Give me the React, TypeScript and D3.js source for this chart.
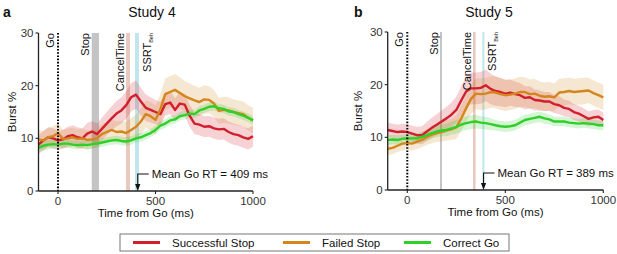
import React from 'react';
import * as d3 from 'd3';

// Time grid (ms from Go), 25 ms resolution
const times: number[] = d3.range(-100, 1001, 25);
const xTicks = [0, 500, 1000];
const yTicks = [0, 10, 20, 30];

// ---------- Study 4 ----------
const s4SuccStop = [8.8, 9.6, 10.2, 10.0, 9.6, 9.8, 10.4, 10.6, 10.2, 10.0, 10.9, 11.3, 10.8, 11.8, 12.8, 13.8, 14.7, 15.3, 16.3, 17.8, 18.3, 17.0, 15.8, 15.4, 15.0, 14.6, 16.5, 16.8, 15.4, 16.6, 16.4, 14.3, 12.8, 12.6, 12.2, 12.3, 11.9, 11.7, 11.8, 11.2, 10.8, 10.6, 10.2, 9.9, 10.4];
const s4FailStop = [9.8, 9.6, 10.2, 10.4, 11.0, 9.9, 10.0, 10.2, 9.9, 10.0, 9.7, 9.8, 10.0, 10.8, 11.2, 11.6, 11.2, 11.3, 11.0, 11.6, 12.2, 13.2, 14.6, 14.2, 13.5, 15.5, 18.4, 18.8, 19.2, 18.6, 18.0, 17.6, 17.2, 16.9, 17.4, 17.3, 16.6, 15.2, 15.4, 15.3, 15.0, 14.8, 14.6, 13.9, 13.4];
const s4CorrGo = [8.2, 8.6, 8.8, 8.9, 8.8, 9.0, 9.0, 8.8, 8.7, 8.8, 8.7, 8.9, 9.0, 9.2, 9.4, 9.6, 9.7, 9.5, 9.4, 9.6, 10.0, 10.2, 10.6, 11.0, 11.6, 12.4, 12.8, 13.4, 13.6, 14.2, 14.4, 14.7, 14.6, 15.3, 15.6, 16.0, 16.1, 15.7, 15.6, 15.1, 15.0, 14.6, 14.3, 13.9, 13.4];
const s4SuccStopSem = [1.8, 1.8, 1.9, 1.9, 1.8, 1.8, 1.8, 1.9, 1.9, 1.9, 2.0, 2.0, 2.0, 2.1, 2.2, 2.3, 2.4, 2.5, 2.6, 2.7, 2.7, 2.6, 2.5, 2.4, 2.3, 2.3, 2.2, 2.2, 2.2, 2.2, 2.1, 2.1, 2.0, 2.0, 2.0, 2.0, 2.0, 2.0, 2.0, 2.0, 2.0, 2.0, 2.0, 2.0, 2.0];
const s4FailStopSem = [1.8, 1.8, 1.8, 1.9, 1.9, 1.8, 1.8, 1.8, 1.8, 1.8, 1.8, 1.8, 1.8, 1.9, 1.9, 2.0, 2.0, 2.0, 2.1, 2.2, 2.3, 2.5, 2.6, 2.7, 2.8, 2.9, 3.0, 3.0, 3.0, 3.0, 2.9, 2.8, 2.8, 2.7, 2.7, 2.6, 2.6, 2.5, 2.5, 2.5, 2.4, 2.4, 2.4, 2.4, 2.4];
const s4CorrGoSem = [0.9, 0.9, 0.9, 0.9, 0.8, 0.8, 0.8, 0.8, 0.8, 0.8, 0.8, 0.8, 0.8, 0.8, 0.8, 0.8, 0.8, 0.8, 0.8, 0.8, 0.8, 0.8, 0.8, 0.8, 0.8, 0.8, 0.8, 0.8, 0.8, 0.8, 0.8, 0.8, 0.8, 0.8, 0.8, 0.8, 0.8, 0.8, 0.8, 0.8, 0.8, 0.8, 0.8, 0.8, 0.8];
const s4Stop = [173, 210];
const s4Cancel = [349, 369];
const s4Ssrt = [395, 415];
const s4GoRT = 409;

// ---------- Study 5 ----------
const s5SuccStop = [11.4, 11.2, 11.0, 11.1, 11.0, 10.7, 10.4, 10.4, 11.1, 11.8, 12.4, 13.0, 13.6, 14.3, 15.2, 17.0, 18.7, 19.3, 19.3, 19.4, 19.9, 19.2, 18.8, 18.6, 18.3, 18.5, 18.2, 18.0, 17.5, 17.6, 17.1, 17.0, 16.8, 16.8, 16.3, 16.1, 15.6, 15.4, 14.8, 14.5, 14.0, 13.5, 13.8, 13.9, 13.3];
const s5FailStop = [7.8, 8.0, 8.4, 8.8, 8.9, 8.8, 9.2, 9.5, 10.1, 10.5, 10.8, 11.0, 11.3, 11.5, 11.9, 13.6, 15.5, 17.3, 18.3, 18.2, 18.3, 18.6, 18.5, 18.2, 18.0, 18.1, 18.3, 18.6, 18.6, 18.2, 18.3, 17.9, 17.7, 17.8, 17.6, 18.5, 18.6, 18.8, 18.6, 18.7, 18.8, 18.9, 18.4, 18.0, 17.6];
const s5CorrGo = [9.5, 9.6, 9.5, 9.7, 9.8, 9.8, 9.8, 10.1, 10.4, 10.8, 11.1, 11.3, 11.4, 11.7, 12.0, 12.4, 12.7, 12.9, 13.0, 12.8, 12.7, 12.5, 12.3, 12.1, 12.0, 12.1, 12.3, 12.8, 13.3, 13.5, 13.7, 13.9, 13.6, 13.4, 13.0, 13.0, 13.0, 12.8, 12.7, 12.6, 12.7, 12.6, 12.5, 12.3, 12.3];
const s5SuccStopSem = [1.4, 1.4, 1.4, 1.5, 1.5, 1.5, 1.6, 1.7, 1.8, 1.9, 2.0, 2.1, 2.2, 2.3, 2.5, 2.7, 2.9, 3.0, 3.0, 3.0, 3.0, 2.9, 2.8, 2.7, 2.6, 2.5, 2.4, 2.3, 2.2, 2.1, 2.0, 1.9, 1.8, 1.8, 1.7, 1.7, 1.6, 1.6, 1.5, 1.5, 1.5, 1.4, 1.4, 1.4, 1.4];
const s5FailStopSem = [1.2, 1.2, 1.2, 1.3, 1.3, 1.3, 1.4, 1.4, 1.5, 1.6, 1.7, 1.8, 1.9, 2.0, 2.2, 2.4, 2.6, 2.8, 2.9, 3.0, 3.0, 3.0, 3.0, 3.0, 3.0, 2.9, 2.9, 2.9, 2.8, 2.8, 2.8, 2.7, 2.7, 2.7, 2.6, 2.6, 2.6, 2.5, 2.5, 2.5, 2.5, 2.4, 2.4, 2.4, 2.4];
const s5CorrGoSem = [0.9, 0.9, 0.9, 0.9, 0.9, 0.9, 0.9, 1.0, 1.0, 1.0, 1.1, 1.1, 1.2, 1.2, 1.3, 1.3, 1.3, 1.3, 1.3, 1.2, 1.2, 1.1, 1.0, 1.0, 1.0, 1.0, 1.0, 1.0, 1.0, 1.0, 1.0, 1.0, 1.0, 0.9, 0.9, 0.9, 0.9, 0.9, 0.9, 0.9, 0.9, 0.9, 0.9, 0.9, 0.9];
const s5Stop = [167, 177];
const s5Cancel = [335, 348];
const s5Ssrt = [383, 393];
const s5GoRT = 389;

const seriesNames = ['Successful Stop', 'Failed Stop', 'Correct Go'];
const seriesColors = ['#d11f2d', '#d4861c', '#2fcf2a'];

const FONT = 'Liberation Sans, Arial, Helvetica, sans-serif';
const AXIS = '#222';

type PanelProps = {
  letter: string;
  title: string;
  titleX: number;
  letterX: number;
  x0: number;
  x1: number;
  yTop: number;
  yBot: number;
  ylabelX: number;
  means: number[][];
  sems: number[][];
  stop: number[];
  cancel: number[];
  ssrt: number[];
  goRT: number;
};

function Panel(p: PanelProps) {
  const x = d3.scaleLinear().domain([-100, 1000]).range([p.x0, p.x1]);
  const y = d3.scaleLinear().domain([0, 30]).range([p.yBot, p.yTop]);
  const line = d3.line<number>().x((_, i) => x(times[i])).y((d) => y(d));
  const areas = p.means.map((m, k) =>
    d3
      .area<number>()
      .x((_, i) => x(times[i]))
      .y0((d, i) => y(d - p.sems[k][i]))
      .y1((d, i) => y(d + p.sems[k][i]))(m) as string
  );
  const arrowX = x(p.goRT);
  const annY = p.yBot - 17;
  const vlab = (bx: number, content: React.ReactNode, key: string) => (
    <text
      key={key}
      transform={`translate(${bx},${p.yTop}) rotate(-90)`}
      textAnchor="end"
      fontSize={11}
      fontFamily={FONT}
      fill="#111"
    >
      {content}
    </text>
  );
  return (
    <g>
      <text x={p.letterX} y={17} fontSize={14} fontWeight="bold" fontFamily={FONT} fill="#111">
        {p.letter}
      </text>
      <text x={p.titleX} y={17} fontSize={14} fontFamily={FONT} textAnchor="middle" fill="#111">
        {p.title}
      </text>
      {/* event bands */}
      <rect x={x(p.stop[0])} y={p.yTop} width={x(p.stop[1]) - x(p.stop[0])} height={p.yBot - p.yTop} fill="#c4c4c4" />
      <rect x={x(p.cancel[0])} y={p.yTop} width={x(p.cancel[1]) - x(p.cancel[0])} height={p.yBot - p.yTop} fill="#e9c9bd" />
      <rect x={x(p.ssrt[0])} y={p.yTop} width={x(p.ssrt[1]) - x(p.ssrt[0])} height={p.yBot - p.yTop} fill="#bfe6ec" />
      {/* sem shading */}
      {areas.map((a, k) => (
        <path key={'a' + k} d={a} fill={seriesColors[k]} fillOpacity={0.2} stroke="none" />
      ))}
      {p.means.map((m, k) => (
        <path key={'l' + k} d={line(m) as string} fill="none" stroke={seriesColors[k]} strokeWidth={2.4} strokeLinejoin="round" />
      ))}
      {/* Go line */}
      <line x1={x(0)} x2={x(0)} y1={p.yTop} y2={p.yBot} stroke="#000" strokeWidth={2} strokeDasharray="1.6,1.6" />
      {vlab(x(0) - 4, 'Go', 'go')}
      {vlab(x(p.stop[0]) - 2.5, 'Stop', 'stop')}
      {vlab(x(p.cancel[0]) - 2, 'CancelTime', 'cancel')}
      {vlab(
        x(p.ssrt[1]) + 12,
        <>
          SSRT
          <tspan fontSize={5.5} dy={2}>
            Beh
          </tspan>
        </>,
        'ssrt'
      )}
      {/* Mean Go RT annotation */}
      <path d={`M${arrowX + 11},${annY} H${arrowX} V${p.yBot - 6}`} fill="none" stroke="#111" strokeWidth={1.1} />
      <path d={`M${arrowX - 2.6},${p.yBot - 7} L${arrowX + 2.6},${p.yBot - 7} L${arrowX},${p.yBot} Z`} fill="#111" />
      <text x={arrowX + 14} y={annY + 4} fontSize={11.5} fontFamily={FONT} fill="#111">
        Mean Go RT = {p.goRT} ms
      </text>
      {/* axes */}
      <line x1={p.x0} x2={p.x0} y1={p.yTop} y2={p.yBot} stroke={AXIS} strokeWidth={1.3} />
      <line x1={p.x0} x2={p.x1} y1={p.yBot} y2={p.yBot} stroke={AXIS} strokeWidth={1.3} />
      {yTicks.map((t) => (
        <g key={'y' + t}>
          <line x1={p.x0 - 3} x2={p.x0} y1={y(t)} y2={y(t)} stroke={AXIS} strokeWidth={1.1} />
          <text x={p.x0 - 5} y={y(t) + 4} fontSize={11.5} fontFamily={FONT} textAnchor="end" fill="#333">
            {t}
          </text>
        </g>
      ))}
      {xTicks.map((t) => (
        <g key={'x' + t}>
          <line x1={x(t)} x2={x(t)} y1={p.yBot} y2={p.yBot + 3} stroke={AXIS} strokeWidth={1.1} />
          <text x={x(t)} y={p.yBot + 14} fontSize={11.5} fontFamily={FONT} textAnchor="middle" fill="#333">
            {t}
          </text>
        </g>
      ))}
      <text x={(p.x0 + p.x1) / 2} y={p.yBot + 26} fontSize={11.5} fontFamily={FONT} textAnchor="middle" fill="#111">
        Time from Go (ms)
      </text>
      <text
        transform={`translate(${p.ylabelX},${(p.yTop + p.yBot) / 2}) rotate(-90)`}
        fontSize={11.5}
        fontFamily={FONT}
        textAnchor="middle"
        fill="#111"
      >
        Burst %
      </text>
    </g>
  );
}

export default function App() {
  const legendX = [133, 283, 404];
  return (
    <svg width={617} height={254} style={{ position: 'absolute', left: 0, top: 0, background: '#fff' }}>
      <rect width={617} height={254} fill="#fff" />
      <Panel
        letter="a"
        title="Study 4"
        titleX={152}
        letterX={3}
        x0={38.5}
        x1={253}
        yTop={33}
        yBot={191}
        ylabelX={16}
        means={[s4SuccStop, s4FailStop, s4CorrGo]}
        sems={[s4SuccStopSem, s4FailStopSem, s4CorrGoSem]}
        stop={s4Stop}
        cancel={s4Cancel}
        ssrt={s4Ssrt}
        goRT={s4GoRT}
      />
      <Panel
        letter="b"
        title="Study 5"
        titleX={489}
        letterX={354}
        x0={387.7}
        x1={603.3}
        yTop={32}
        yBot={190}
        ylabelX={362}
        means={[s5SuccStop, s5FailStop, s5CorrGo]}
        sems={[s5SuccStopSem, s5FailStopSem, s5CorrGoSem]}
        stop={s5Stop}
        cancel={s5Cancel}
        ssrt={s5Ssrt}
        goRT={s5GoRT}
      />
      {/* legend */}
      <rect x={120} y={234} width={389} height={17} fill="#fff" stroke="#777" strokeWidth={1} />
      {seriesNames.map((n, k) => (
        <g key={n}>
          <line x1={legendX[k]} x2={legendX[k] + 27} y1={242.5} y2={242.5} stroke={seriesColors[k]} strokeWidth={3} />
          <text x={legendX[k] + 39} y={246.5} fontSize={11.5} fontFamily={FONT} fill="#111">
            {n}
          </text>
        </g>
      ))}
    </svg>
  );
}
